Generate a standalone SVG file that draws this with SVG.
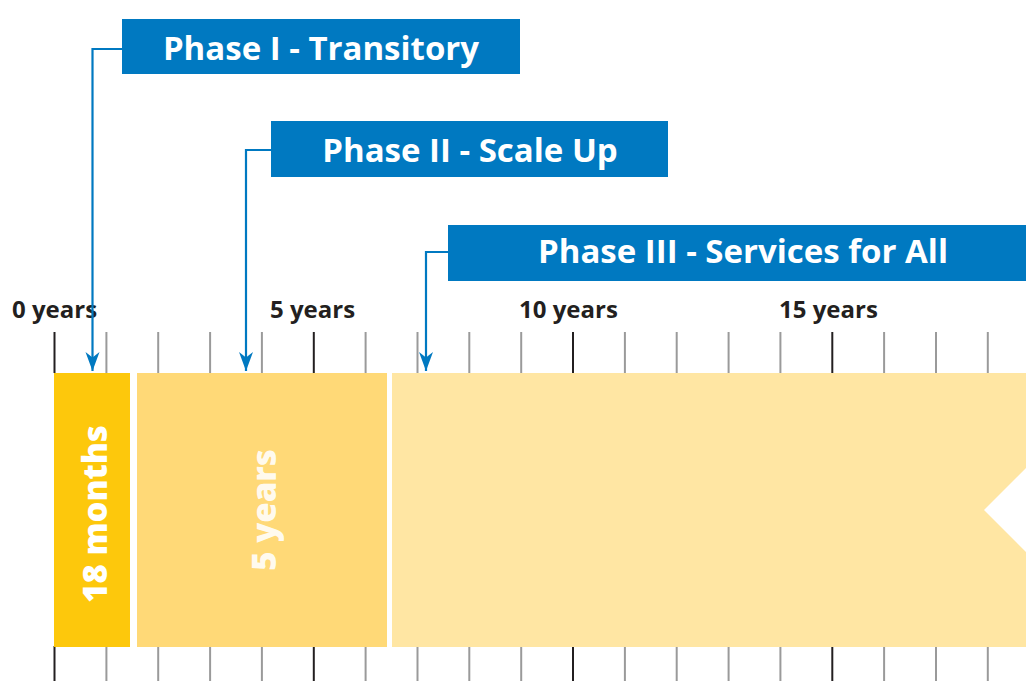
<svg xmlns="http://www.w3.org/2000/svg" width="1026" height="681" viewBox="0 0 1026 681">
<style>
.box{fill:#0079C1}
.title{font-family:"Open Sans","Liberation Sans",sans-serif;font-weight:700;font-size:33px;fill:#fff;text-anchor:middle}
.axis{font-family:"Open Sans","Liberation Sans",sans-serif;font-weight:700;font-size:24px;fill:#231F20}
.dur{font-family:"Open Sans","Liberation Sans",sans-serif;font-weight:800;font-size:33px;fill:#fff;text-anchor:middle}
.maj{stroke:#231F20;stroke-width:2}
.min{stroke:#9A9A9A;stroke-width:2}
.conn{fill:none;stroke:#0079C1;stroke-width:2.2}
</style>
<defs>
<marker id="arr" markerUnits="userSpaceOnUse" viewBox="-20 -8 21 16" refX="0" refY="0" markerWidth="21" markerHeight="16" orient="auto">
<path d="M0,0 L-19,-7 L-13.5,0 L-19,7 Z" fill="#0079C1"/>
</marker>
</defs>
<rect width="1026" height="681" fill="#fff"/>
<g id="ticks-top">
<line class="maj" x1="54.5" y1="332" x2="54.5" y2="373"/>
<line class="min" x1="106.4" y1="332" x2="106.4" y2="373"/>
<line class="min" x1="158.2" y1="332" x2="158.2" y2="373"/>
<line class="min" x1="210.1" y1="332" x2="210.1" y2="373"/>
<line class="min" x1="261.9" y1="332" x2="261.9" y2="373"/>
<line class="maj" x1="313.8" y1="332" x2="313.8" y2="373"/>
<line class="min" x1="365.6" y1="332" x2="365.6" y2="373"/>
<line class="min" x1="417.5" y1="332" x2="417.5" y2="373"/>
<line class="min" x1="469.3" y1="332" x2="469.3" y2="373"/>
<line class="min" x1="521.2" y1="332" x2="521.2" y2="373"/>
<line class="maj" x1="573" y1="332" x2="573" y2="373"/>
<line class="min" x1="624.9" y1="332" x2="624.9" y2="373"/>
<line class="min" x1="676.7" y1="332" x2="676.7" y2="373"/>
<line class="min" x1="728.6" y1="332" x2="728.6" y2="373"/>
<line class="min" x1="780.4" y1="332" x2="780.4" y2="373"/>
<line class="maj" x1="832.3" y1="332" x2="832.3" y2="373"/>
<line class="min" x1="884.1" y1="332" x2="884.1" y2="373"/>
<line class="min" x1="936" y1="332" x2="936" y2="373"/>
<line class="min" x1="987.8" y1="332" x2="987.8" y2="373"/>
</g>
<g id="ticks-bottom">
<line class="maj" x1="54.5" y1="646" x2="54.5" y2="681"/>
<line class="min" x1="106.4" y1="646" x2="106.4" y2="681"/>
<line class="min" x1="158.2" y1="646" x2="158.2" y2="681"/>
<line class="min" x1="210.1" y1="646" x2="210.1" y2="681"/>
<line class="min" x1="261.9" y1="646" x2="261.9" y2="681"/>
<line class="maj" x1="313.8" y1="646" x2="313.8" y2="681"/>
<line class="min" x1="365.6" y1="646" x2="365.6" y2="681"/>
<line class="min" x1="417.5" y1="646" x2="417.5" y2="681"/>
<line class="min" x1="469.3" y1="646" x2="469.3" y2="681"/>
<line class="min" x1="521.2" y1="646" x2="521.2" y2="681"/>
<line class="maj" x1="573" y1="646" x2="573" y2="681"/>
<line class="min" x1="624.9" y1="646" x2="624.9" y2="681"/>
<line class="min" x1="676.7" y1="646" x2="676.7" y2="681"/>
<line class="min" x1="728.6" y1="646" x2="728.6" y2="681"/>
<line class="min" x1="780.4" y1="646" x2="780.4" y2="681"/>
<line class="maj" x1="832.3" y1="646" x2="832.3" y2="681"/>
<line class="min" x1="884.1" y1="646" x2="884.1" y2="681"/>
<line class="min" x1="936" y1="646" x2="936" y2="681"/>
<line class="min" x1="987.8" y1="646" x2="987.8" y2="681"/>
</g>
<g id="axis-labels">
<text class="axis" x="12" y="318">0 years</text>
<text class="axis" x="270" y="318">5 years</text>
<text class="axis" x="519" y="318">10 years</text>
<text class="axis" x="779" y="318">15 years</text>
</g>
<g id="bar-phase1">
<rect x="54" y="373" width="76" height="274" fill="#FDC80C"/>
<text class="dur" transform="translate(107,514) rotate(-90)">18 months</text>
</g>
<g id="bar-phase2">
<rect x="137" y="373" width="250" height="274" fill="#FFD977"/>
<text class="dur" transform="translate(276,510) rotate(-90)" fill-opacity="0.9">5 years</text>
</g>
<g id="bar-phase3">
<path d="M392,373 H1026 V468 L984,510 L1026,552 V647 H392 Z" fill="#FFE6A3"/>
</g>
<g id="connectors">
<path class="conn" d="M122,49 H92.5 V371" marker-end="url(#arr)"/>
<path class="conn" d="M271,150 H246 V371" marker-end="url(#arr)"/>
<path class="conn" d="M448,252 H426 V371" marker-end="url(#arr)"/>
</g>
<g id="phase1">
<rect class="box" x="122" y="19" width="398" height="55"/>
<text class="title" x="321" y="60">Phase I - Transitory</text>
</g>
<g id="phase2">
<rect class="box" x="271" y="121" width="397" height="56"/>
<text class="title" x="470" y="162">Phase II - Scale Up</text>
</g>
<g id="phase3">
<rect class="box" x="448" y="225" width="578" height="56"/>
<text class="title" x="743" y="263">Phase III - Services for All</text>
</g>
</svg>
